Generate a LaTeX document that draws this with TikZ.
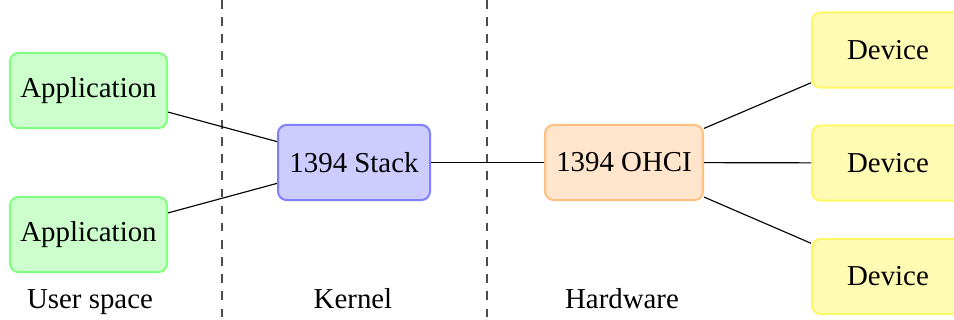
\documentclass[tikz,border=0pt]{standalone}
\usepackage{fontspec}
\setmainfont{Liberation Serif}
\begin{document}
\begin{tikzpicture}[x=0.35pt,y=-0.35pt,
  box/.style={draw,rounded corners=3pt,line width=0.7pt,inner sep=2pt,font=\fontsize{10.1}{12}\selectfont,minimum height=26.3pt},
  appbox/.style={box,fill=green!20,draw=green!50,minimum width=55pt},
  stackbox/.style={box,fill=blue!20,draw=blue!50,minimum width=53.2pt},
  ohcibox/.style={box,fill=orange!20,draw=orange!50,minimum width=55.3pt},
  devbox/.style={box,fill=yellow!30,draw=yellow!60,minimum width=53.2pt},
  sep/.style={draw=black!70,dashed,line width=0.4pt},
  conn/.style={draw=black,line width=0.4pt},
  lbl/.style={font=\fontsize{10.1}{12}\selectfont,anchor=base}]
\useasboundingbox (0,0) rectangle (954,320);
\coordinate (s1t) at (222,0);
\coordinate (s1b) at (222,320);
\coordinate (s2t) at (487,0);
\coordinate (s2b) at (487,320);
\draw[sep] (s1t) -- (s1b);
\draw[sep] (s2t) -- (s2b);
\node[appbox] (app1) at (88.5,90.5) {Application};
\node[appbox] (app2) at (88.5,234.5) {Application};
\node[stackbox] (stack) at (354,162.5) {1394 Stack};
\node[ohcibox] (ohci) at (624,162.5) {1394 OHCI};
\node[devbox] (dev1) at (888,50) {Device};
\node[devbox] (dev2) at (888,163) {Device};
\node[devbox] (dev3) at (888,276.5) {Device};
\draw[conn] (app1) -- (stack);
\draw[conn] (app2) -- (stack);
\draw[conn] (stack) -- (ohci);
\draw[conn] (ohci) -- (dev1);
\draw[conn] (ohci) -- (dev2);
\draw[conn] (ohci) -- (dev3);
\node[lbl] (l1) at (90,309) {User space};
\node[lbl] (l2) at (353,309) {Kernel};
\node[lbl] (l3) at (622,309) {Hardware};
\end{tikzpicture}
\end{document}
